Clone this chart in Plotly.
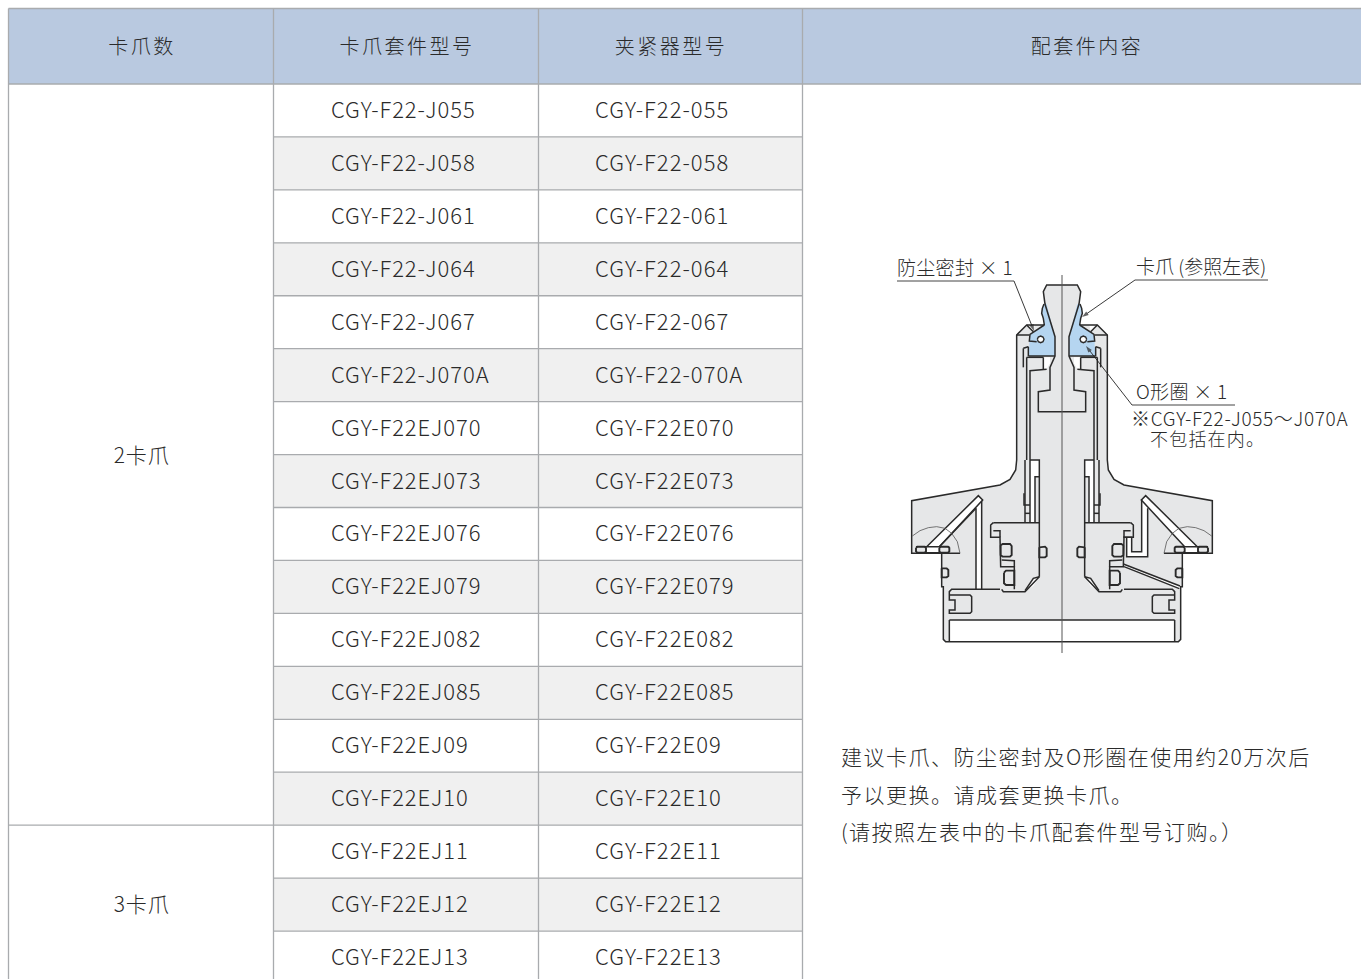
import json
import plotly.graph_objects as go

# ---------- table content ----------
HEADERS = ["卡爪数", "卡爪套件型号", "夹紧器型号", "配套件内容"]
KIT_MODELS = ["CGY-F22-J055", "CGY-F22-J058", "CGY-F22-J061", "CGY-F22-J064", "CGY-F22-J067", "CGY-F22-J070A",
              "CGY-F22EJ070", "CGY-F22EJ073", "CGY-F22EJ076", "CGY-F22EJ079", "CGY-F22EJ082", "CGY-F22EJ085",
              "CGY-F22EJ09", "CGY-F22EJ10", "CGY-F22EJ11", "CGY-F22EJ12", "CGY-F22EJ13"]
GRIPPER_MODELS = ["CGY-F22-055", "CGY-F22-058", "CGY-F22-061", "CGY-F22-064", "CGY-F22-067", "CGY-F22-070A",
                  "CGY-F22E070", "CGY-F22E073", "CGY-F22E076", "CGY-F22E079", "CGY-F22E082", "CGY-F22E085",
                  "CGY-F22E09", "CGY-F22E10", "CGY-F22E11", "CGY-F22E12", "CGY-F22E13"]
JAW_GROUPS = [("2卡爪", 0, 14), ("3卡爪", 14, 17)]
NOTE_LINES = ["建议卡爪、防尘密封及O形圈在使用约20万次后", "予以更换。请成套更换卡爪。", "(请按照左表中的卡爪配套件型号订购。）"]

COL_X = [8.5, 273.5, 538.5, 802.5, 1361]
HEAD_TOP, HEAD_BOT, ROW_H = 8.5, 84, 52.94

INK, GRID, HEAD_BG, ALT_BG = "#2a2a2a", "#a9abae", "#b9c9e0", "#f0f0f0"
BODY, BLUE, LINE = "#e6e7e8", "#b5d5f0", "#2a2a2a"
FONT = "Noto Sans CJK SC"

def up(pts):   # upper part, 3x crop
    return [(1000 + x / 3, 280 + y / 3) for x, y in pts]
def lo(pts):   # lower part, 3x crop
    return [(900 + x / 3, 460 + y / 3) for x, y in pts]
def mir(pts):
    return [(2124 - x, y) for x, y in pts]

OUTLINE_UP = [(186, 15), (140, 15), (130, 35), (132, 72), (125, 100), (133, 135), (80, 135), (50, 165)]
OUTLINE_LO = [(350, 0), (347, 30), (330, 58), (300, 75), (35, 122), (35, 280), (125, 280), (125, 380), (130, 380),
              (130, 538), (137, 545), (148, 545), (148, 480), (486, 480)]
BLUE_SEAL = [(132, 72), (127, 85), (125, 100), (130, 115), (133, 135), (110, 150), (90, 163), (88, 183), (88, 198),
             (85, 228), (165, 228), (165, 172), (140, 72)]
WHITE_UP = [[(130, 232), (150, 232), (150, 250), (140, 268), (130, 268)],
            [(82, 136), (104, 136), (100, 153)]]
WHITE_LO = [[(48, 260), (80, 260), (228, 112), (235, 107), (248, 120), (118, 260), (148, 260), (148, 278), (48, 278)],
            [(390, 0), (418, 0), (418, 50), (405, 50), (405, 188), (390, 188)],
            [(418, 350), (402, 358), (375, 392), (400, 378)]]
WHITE_LEFT_ONLY = [[(228, 145), (245, 122), (245, 388), (228, 388)]]
WHITE_RIGHT_ONLY = [[(725, 118), (743, 145), (743, 290), (680, 290), (680, 232), (695, 232), (695, 275), (725, 275)],
                    [(670, 312), (840, 378), (838, 386), (672, 320)]]
WHITE_CUP = [(148, 480), (824, 480), (824, 545), (148, 545)]

LINES_UP = [
    [(50, 540), (50, 165), (80, 135), (133, 135)], [(50, 165), (88, 165)], [(80, 135), (100, 155)],
    [(186, 15), (140, 15), (130, 35), (135, 72), (165, 170), (165, 228), (150, 262), (150, 330), (115, 335), (115, 395), (186, 395)],
    [(132, 72), (127, 85), (125, 100), (130, 115), (133, 135)], [(133, 135), (110, 150), (90, 163), (88, 183), (110, 185)],
    [(70, 205), (85, 200)], [(70, 205), (70, 262)], [(85, 228), (165, 228)], [(85, 200), (85, 228)],
    [(80, 232), (130, 232)], [(80, 232), (80, 540)], [(130, 232), (130, 268)], [(140, 268), (90, 272), (90, 540)],
]
LINES_LO = [
    [(350, 0), (347, 30), (330, 58), (300, 75), (35, 122), (35, 280), (180, 280)],
    [(125, 280), (125, 380), (130, 380), (130, 538), (137, 545), (486, 545)],
    [(148, 480), (486, 480)], [(148, 480), (148, 545)],
    [(48, 260), (148, 260)], [(48, 278), (148, 278)], [(80, 260), (228, 112), (235, 107), (248, 120), (118, 260)],
    [(148, 405), (148, 395), (155, 388), (300, 388)], [(305, 388), (310, 395), (375, 395), (418, 350)],
    [(375, 392), (400, 355), (418, 350)],
    [(148, 405), (210, 405), (215, 410), (215, 455), (210, 460), (148, 460), (148, 450), (165, 450), (165, 420), (148, 420), (148, 405)],
    [(280, 188), (418, 188)], [(280, 188), (272, 195), (272, 232), (300, 232), (302, 320), (343, 320), (343, 388)],
    [(280, 212), (300, 212), (300, 232)], [(305, 300), (343, 302), (343, 320)],
    [(375, 0), (375, 188)], [(390, 0), (390, 188)], [(390, 0), (418, 0), (418, 350)], [(418, 50), (405, 50), (405, 188)],
    [(372, 100), (372, 135), (390, 135)], [(375, 160), (390, 160)],
]
SEALS = [
    [(48, 264), (52, 260), (74, 260), (78, 264), (78, 274), (74, 278), (52, 278), (48, 274), (48, 264)],
    [(118, 264), (122, 260), (144, 260), (148, 264), (148, 274), (144, 278), (122, 278), (118, 274), (118, 264)],
    [(302, 256), (308, 252), (330, 252), (335, 258), (335, 285), (330, 290), (308, 290), (302, 285), (302, 256)],
    [(312, 338), (318, 332), (343, 332), (343, 375), (318, 375), (312, 370), (312, 338)],
    [(418, 262), (435, 260), (440, 265), (440, 288), (435, 292), (418, 292), (418, 262)],
    [(125, 325), (140, 325), (145, 330), (145, 348), (140, 352), (125, 352), (125, 325)],
]
LINES_LEFT_ONLY = [[(228, 145), (228, 388)], [(245, 122), (245, 388)], [(228, 145), (118, 260)]]
LINES_RIGHT_ONLY = [[(725, 118), (725, 275), (695, 275), (695, 232), (670, 232)],
                    [(743, 145), (743, 290), (680, 290), (680, 232)],
                    [(670, 312), (840, 378)], [(672, 320), (838, 386)]]
ARC = [(37, 228), (60, 212), (85, 203), (110, 200), (135, 205), (155, 220), (172, 245), (180, 280)]
ORING = [(112, 178), (115, 171), (122, 168), (129, 171), (132, 178), (129, 185), (122, 188), (115, 185), (112, 178)]

LEADERS = [([(897, 281), (1014, 281)], [(1014, 281), (1034, 331)]),
           ([(1268, 280), (1135, 280)], [(1135, 280), (1082, 317)]),
           ([(1235, 405), (1132, 405)], [(1132, 405), (1086, 346)])]
CENTER_LINE = [(1062, 275), (1062, 653)]

# ---------- callout text: text, x, y, size, anchor, spacing ----------
CALLOUTS = [("防尘密封 × 1", 896, 266, 19, "left", 0.3), ("卡爪 (参照左表)", 1135, 265, 19, "left", 0.0),
            ("O形圈 × 1", 1135, 390, 19, "left", 0.3), ("※CGY-F22-J055～J070A", 1130, 417, 19, "left", 0.65),
            ("不包括在内。", 1149, 438, 18, "left", 1.2)]

fig = go.Figure()
shapes, ann, spacing = [], [], []

def rect(x0, x1, y0, y1, fill):
    shapes.append(dict(type="rect", x0=x0, x1=x1, y0=y0, y1=y1, fillcolor=fill, line_width=0, layer="below"))
def seg(x0, y0, x1, y1, color=GRID, w=1.3):
    shapes.append(dict(type="line", x0=x0, x1=x1, y0=y0, y1=y1, line=dict(color=color, width=w), layer="below"))
def text(t, x, y, size=20, anchor="center", sp=0.0):
    ann.append(dict(text=t, x=x, y=y, xref="x", yref="y", xanchor=anchor, yanchor="middle", align=anchor, showarrow=False,
                    borderpad=0, font=dict(family=FONT, size=size, color=INK, weight=300)))
    spacing.append(sp)

# header
rect(COL_X[0], COL_X[-1], HEAD_TOP, HEAD_BOT, HEAD_BG)
for i, h in enumerate(HEADERS):
    text(h, (COL_X[i] + COL_X[i + 1]) / 2 + (5 if i == 3 else 0.5), 45, 20, "center", 2.5)

n = len(KIT_MODELS)
for i in range(n):
    y0 = HEAD_BOT + i * ROW_H
    if i % 2:
        rect(COL_X[1], COL_X[3], y0, y0 + ROW_H, ALT_BG)
    text(KIT_MODELS[i], COL_X[1] + 56.5, y0 + ROW_H / 2 - 2.5, 22, "left", 0.92)
    text(GRIPPER_MODELS[i], COL_X[2] + 55.5, y0 + ROW_H / 2 - 2.5, 22, "left", 1.05)
    if i:
        seg(COL_X[1], y0, COL_X[3], y0)

for label, a, b in JAW_GROUPS:
    yc = HEAD_BOT + (a + b) * ROW_H / 2
    text(label, (COL_X[0] + COL_X[1]) / 2, (903 if a else yc - 1), 21, "center", 0.8)
    if a:
        seg(COL_X[0], HEAD_BOT + a * ROW_H, COL_X[1], HEAD_BOT + a * ROW_H)

seg(COL_X[0], HEAD_TOP, COL_X[-1], HEAD_TOP, w=1.5)
seg(COL_X[0], HEAD_BOT, COL_X[-1], HEAD_BOT, w=1.5)
for x in COL_X[:-1]:
    seg(x, HEAD_TOP, x, 979)

for t, y in zip(NOTE_LINES, [756, 794, 831]):
    text(t, 840, y, 21, "left", 1.5)
for c in CALLOUTS:
    text(*c)

# drawing
def fill(pts, color):
    fig.add_trace(go.Scatter(x=[p[0] for p in pts], y=[p[1] for p in pts], mode="lines", fill="toself",
                             fillcolor=color, line=dict(width=0), hoverinfo="skip", showlegend=False))
def poly(groups, w=1.2, color=LINE):
    xs, ys = [], []
    for g in groups:
        xs += [p[0] for p in g] + [None]
        ys += [p[1] for p in g] + [None]
    fig.add_trace(go.Scatter(x=xs, y=ys, mode="lines", line=dict(color=color, width=w), hoverinfo="skip", showlegend=False))

left = up(OUTLINE_UP) + lo(OUTLINE_LO)
fill(left + mir(left)[::-1], BODY)
fill(lo(WHITE_CUP), "#ffffff")
fill(up(BLUE_SEAL), BLUE)
fill(mir(up(BLUE_SEAL)), BLUE)
for w in WHITE_UP:
    fill(up(w), "#ffffff"); fill(mir(up(w)), "#ffffff")
for w in WHITE_LO:
    fill(lo(w), "#ffffff"); fill(mir(lo(w)), "#ffffff")
for w in WHITE_LEFT_ONLY + WHITE_RIGHT_ONLY:
    fill(lo(w), "#ffffff")
fill(up(ORING), "#ffffff")
fill(mir(up(ORING)), "#ffffff")
for s in SEALS:
    fill(lo(s), BODY); fill(mir(lo(s)), BODY)

groups = [up(g) for g in LINES_UP] + [lo(g) for g in LINES_LO]
poly(groups + [mir(g) for g in groups] + [lo(g) for g in LINES_LEFT_ONLY + LINES_RIGHT_ONLY], 1.5)
poly([up(ORING), mir(up(ORING))], 1.4)
poly([lo(s) for s in SEALS] + [mir(lo(s)) for s in SEALS], 1.9)
poly([lo(ARC), mir(lo(ARC))], 0.8, "#555555")
poly([CENTER_LINE], 1.0, "#555555")
for h, d in LEADERS:
    poly([h], 1.0, "#444444")
    fig.add_trace(go.Scatter(x=[p[0] for p in d], y=[p[1] for p in d], mode="lines+markers", hoverinfo="skip", showlegend=False,
                             line=dict(color="#222222", width=0.9),
                             marker=dict(symbol="arrow", size=[0, 7], angleref="previous", color="#222222", line_width=0)))

fig.update_layout(width=1361, height=979, margin=dict(l=0, r=0, t=0, b=0), paper_bgcolor="white", plot_bgcolor="white",
                  shapes=shapes, annotations=ann, showlegend=False, font=dict(family=FONT),
                  xaxis=dict(range=[0, 1361], visible=False, fixedrange=True),
                  yaxis=dict(range=[979, 0], visible=False, fixedrange=True))

JS = ("document.body.style.margin='0';document.body.style.overflow='hidden';"
      "var sp=" + json.dumps(spacing) + ";"
      "document.querySelectorAll('.annotation').forEach(function(a){var i=+a.getAttribute('data-index');"
      "var t=a.querySelector('.annotation-text');if(t){t.style.letterSpacing=sp[i]+'px';}});")
fig.write_html("out.html", post_script=JS, config=dict(displayModeBar=False))
